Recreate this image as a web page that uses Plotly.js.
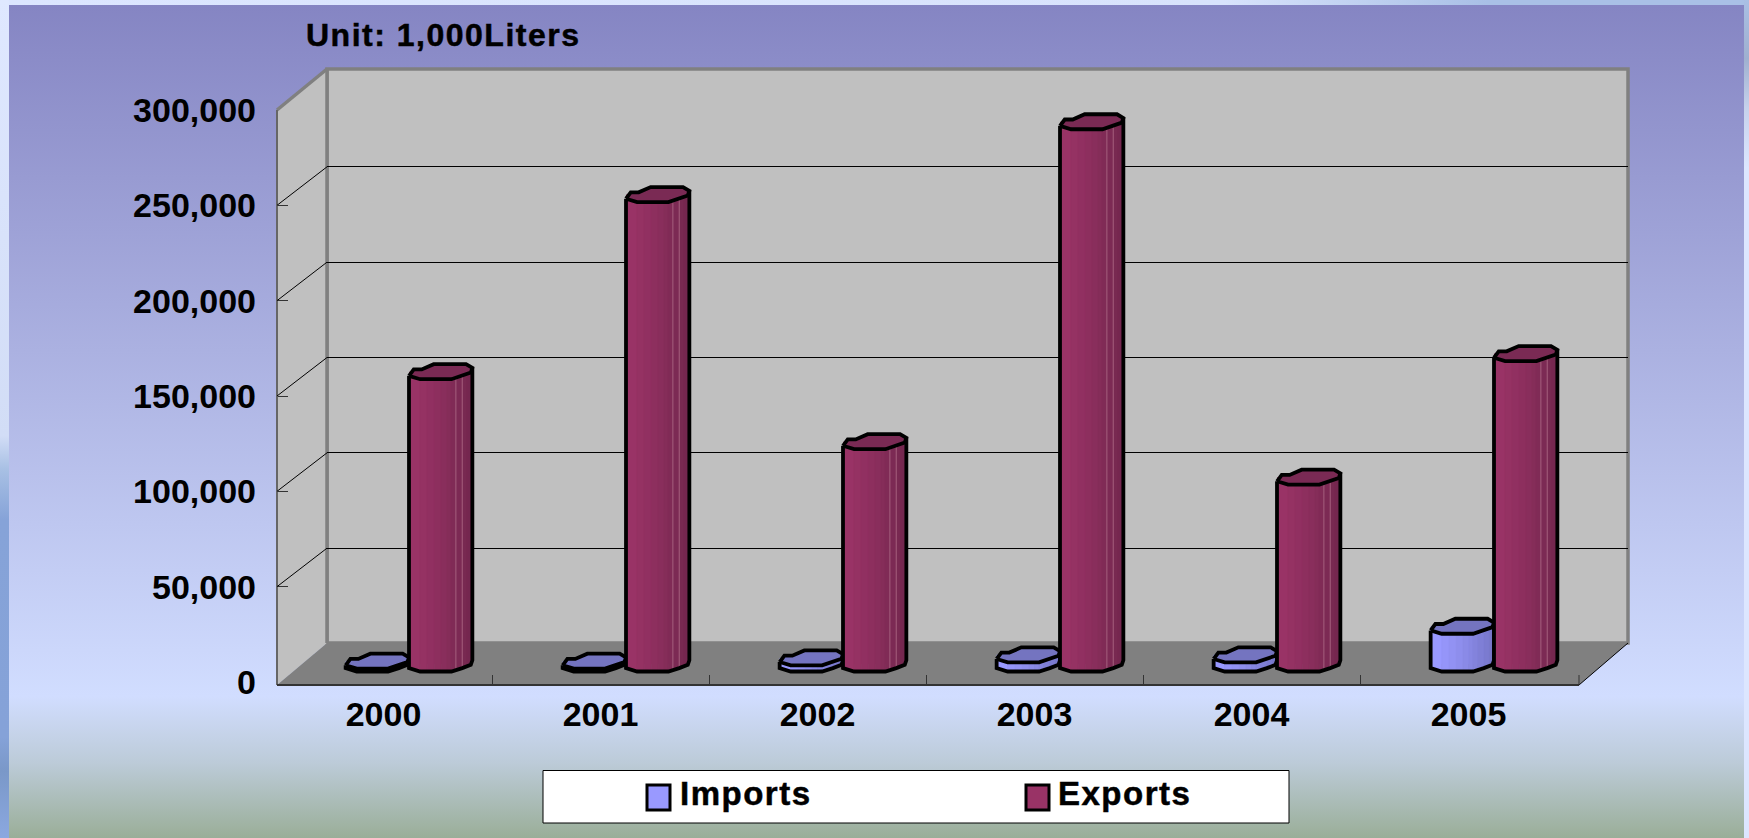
<!DOCTYPE html>
<html>
<head>
<meta charset="utf-8">
<script src="https://cdn.plot.ly/plotly-3.0.1.min.js"></script>
<style>
html,body{margin:0;padding:0;width:1749px;height:838px;overflow:hidden;background:#dce6ff;}
#topstrip{position:absolute;left:0;top:0;width:1749px;height:5px;
 background:linear-gradient(90deg,#dce6ff 0%,#d8e3fc 70%,#a9c0e6 85%,#a9c0e6 100%);}
#leftstrip{position:absolute;left:0;top:0;width:9px;height:838px;
 background:linear-gradient(180deg,#dfe8ff 0%,#d2ddf6 52%,#a8c0e4 56%,#86a3d8 62%,#85a2d8 88%,#7a98c8 92%,#8ba8e0 100%);}
#rightstrip{position:absolute;left:1744px;top:0;width:5px;height:838px;
 background:linear-gradient(180deg,#a9bfe4 0%,#9fb0d0 7%,#c6d2ec 13%,#dce6ff 20%,#dce6ff 100%);}
#panel{position:absolute;left:9px;top:5px;width:1735px;height:833px;
 background:linear-gradient(180deg,#8585c3 0%,#d1ddff 83%,#bccbd8 91%,#9aae98 100%);}
#chart{position:absolute;left:0;top:0;width:1749px;height:838px;}
.annotation-text{letter-spacing:1.5px;stroke:#000;stroke-width:.5px;}
.xtick text,.ytick text{stroke:#000;stroke-width:.5px;}
</style>
</head>
<body>
<div id="topstrip"></div>
<div id="leftstrip"></div>
<div id="rightstrip"></div>
<div id="panel"></div>
<div id="chart"></div>
<script>
// ---------- data ----------
var years   = ['2000','2001','2002','2003','2004','2005'];
var imports = [1500, 1500, 3200, 4800, 4800, 19800];
var exports_ = [153300, 246200, 116600, 284400, 98000, 162800];
var yTicks  = [0, 50000, 100000, 150000, 200000, 250000, 300000];
var seriesNames = ['Imports', 'Exports'];

// ---------- page geometry (pixels of the 1749x838 page) ----------
var W = 1749, H = 838;
var front = {l:275, r:1577, t:110, b:682, edgeL:277, edgeR:1579, edgeB:685};
var back  = {l:327, r:1628, t:69,  b:643, gridT:71.5, gridB:643.5};
var pxPerUnit = (front.b - front.t) / 300000;
var midBase = 664, midShift = 25.5;
function px(x){return x / W;}
function py(y){return 1 - y / H;}
var yLow = -20000, yHigh = 320000;

// ---------- cylinder profile (unit radius, sheared octagon as in the picture) ----------
var capU = [-1,-0.85,-0.6,-0.22,0.8,1,0.95,0.68,0.34,-0.65,-1];
var capV = [-0.55,0.3,0.3,1,1,0.5,-0.12,-0.55,-1,-1,-0.55];
var lowU = [-1,-0.65,0.34,0.68,0.95,1];
var lowV = [-0.55,-1,-1,-0.55,-0.12,0.5];
var strips = [-1,-0.65,-0.42,-0.2,0.02,0.2,0.34,0.48,0.68,0.84,0.95,1];
var rU = 0.146, halfH = 7.5 / pxPerUnit;

function lowAt(u){
  for (var k = 0; k < lowU.length - 1; k++) {
    if (u <= lowU[k+1]) {
      return lowV[k] + (lowV[k+1]-lowV[k]) * (u-lowU[k]) / (lowU[k+1]-lowU[k]);
    }
  }
  return lowV[lowV.length-1];
}
function mix(a,b,t){
  return 'rgb(' + a.map(function(c,i){return Math.round(c+(b[i]-c)*t);}).join(',') + ')';
}

var traces = [];
// back plane: carries the wall gridlines
traces.push({type:'scatter', mode:'none', x:[0], y:[0], xaxis:'x', yaxis:'y', showlegend:false, hoverinfo:'skip'});

function addSeries(name, values, sign, colLeft, colRight, capCol, bar){
  var centers = values.map(function(v,i){return i + sign*rU;});
  // the real bar, from the values
  traces.push({type:'bar', name:name, x:centers, y:values, width:2*rU, xaxis:'x2', yaxis:'y2',
    marker:{color:bar, line:{width:0}}, showlegend:false, customdata:years,
    hovertemplate:name+' %{customdata}: %{y:,}<extra></extra>'});
  // shaded facets
  for (var s = 0; s < strips.length-1; s++) {
    var xs = [], ys = [];
    values.forEach(function(v,i){
      var u1 = strips[s], u2 = strips[s+1];
      var a = lowAt(u1)*halfH, b = lowAt(u2)*halfH;
      xs.push(centers[i]+u1*rU, centers[i]+u2*rU, centers[i]+u2*rU, centers[i]+u1*rU, centers[i]+u1*rU, null);
      ys.push(a, b, v+b, v+a, a, null);
    });
    var t = s/(strips.length-2);
    var c = mix(colLeft,colRight,t);
    traces.push({type:'scatter', mode:'lines', x:xs, y:ys, xaxis:'x2', yaxis:'y2', fill:'toself',
      fillcolor:c, line:{width:0.6,color:c}, showlegend:false, hoverinfo:'skip'});
  }
  // highlights, cap and outline
  if (sign > 0) {
    var hx = [], hy = [];
    values.forEach(function(v,i){
      [0.48,0.68].forEach(function(u){
        hx.push(centers[i]+u*rU, centers[i]+u*rU, null);
        hy.push(lowAt(u)*halfH, v+lowAt(u)*halfH, null);
      });
    });
    traces.push({type:'scatter', mode:'lines', x:hx, y:hy, xaxis:'x2', yaxis:'y2',
      line:{width:1,color:'#a5607f'}, showlegend:false, hoverinfo:'skip'});
  }
  var cx = [], cy = [], ox = [], oy = [];
  values.forEach(function(v,i){
    capU.forEach(function(u,k){ cx.push(centers[i]+u*rU); cy.push(v+capV[k]*halfH); });
    cx.push(null); cy.push(null);
    // silhouette: down the left edge, along the base, up the right edge
    ox.push(centers[i]-rU); oy.push(v+lowV[0]*halfH);
    lowU.forEach(function(u,k){ ox.push(centers[i]+u*rU); oy.push(lowV[k]*halfH); });
    ox.push(centers[i]+rU); oy.push(v+lowV[lowV.length-1]*halfH);
    ox.push(null); oy.push(null);
  });
  traces.push({type:'scatter', mode:'lines', x:ox, y:oy, xaxis:'x2', yaxis:'y2',
    line:{width:3.8,color:'#000'}, showlegend:false, hoverinfo:'skip'});
  traces.push({type:'scatter', mode:'lines', x:cx, y:cy, xaxis:'x2', yaxis:'y2', fill:'toself',
    fillcolor:capCol, line:{width:3.8,color:'#000'}, showlegend:false, hoverinfo:'skip'});
}
addSeries(seriesNames[0], imports, -1, [153,153,255], [116,116,196], '#7474c0', '#9999ff');
addSeries(seriesNames[1], exports_, 1, [153,51,102], [112,38,76], '#7a2a54', '#993366');

// front plane: carries the tick labels
traces.push({type:'scatter', mode:'none', x:years, y:exports_, xaxis:'x3', yaxis:'y3', showlegend:false, hoverinfo:'skip'});

// ---------- walls ----------
function poly(pts, fill, lineCol, lineW){
  var d = pts.map(function(p,i){return (i?'L':'M')+px(p[0])+','+py(p[1]);}).join(' ') + ' Z';
  return {type:'path', xref:'paper', yref:'paper', path:d, fillcolor:fill,
          line:{color:lineCol||fill, width:lineW===undefined?0:lineW}, layer:'below'};
}
function seg(x0,y0,x1,y1,col,w){
  return {type:'line', xref:'paper', yref:'paper', x0:px(x0), y0:py(y0), x1:px(x1), y1:py(y1),
          line:{color:col,width:w}, layer:'below'};
}
var shapes = [
  poly([[back.l,back.t],[back.r,back.t],[back.r,back.b],[back.l,back.b]], '#c0c0c0', '#808080', 3.5),
  poly([[front.edgeL,front.t],[back.l,back.t],[back.l,back.b],[front.edgeL,front.edgeB]], '#c0c0c0'),
  poly([[front.edgeL,front.edgeB],[back.l,back.b],[back.r,back.b],[front.edgeR,front.edgeB]], '#808080'),
  seg(front.edgeL,front.t,back.l,back.t,'#808080',3.5),
  seg(back.l,back.t,back.l,back.b,'#808080',3.5),
  seg(front.edgeL,front.t,front.edgeL,front.edgeB,'#666',2),
  seg(front.edgeL,front.edgeB,front.edgeR,front.edgeB,'#333',2),
  seg(front.edgeR,front.edgeB,back.r,back.b,'#000',1),
  seg(front.edgeR,front.edgeB,front.edgeR,front.edgeB-10,'#333',1)
];
yTicks.forEach(function(v){
  if (v > 0 && v < 300000) {
    var yF = front.b - v*pxPerUnit, yB = back.gridB - v*(back.gridB-back.gridT)/300000;
    shapes.push(seg(front.edgeL,yF,back.l,yB,'#000',1));
  }
});

// ---------- legend ----------
var font = 'Liberation Sans, Arial, sans-serif';
shapes.push({type:'rect', xref:'paper', yref:'paper', x0:px(543), x1:px(1289), y0:py(770.5), y1:py(823),
  fillcolor:'#fff', line:{color:'#000',width:1}, layer:'above'});
shapes.push({type:'rect', xref:'paper', yref:'paper', x0:px(647), x1:px(670), y0:py(785), y1:py(810),
  fillcolor:'#9999ff', line:{color:'#000',width:3}, layer:'above'});
shapes.push({type:'rect', xref:'paper', yref:'paper', x0:px(1026), x1:px(1049), y0:py(785), y1:py(810),
  fillcolor:'#993366', line:{color:'#000',width:3}, layer:'above'});
function note(text,x,y,size){
  return {text:'<b>'+text+'</b>', xref:'paper', yref:'paper', x:px(x), y:py(y), xanchor:'left', yanchor:'middle',
          showarrow:false, font:{family:font, size:size, color:'#000'}};
}
var annotations = [
  note('Unit: 1,000Liters', 304, 35, 32),
  note(seriesNames[0], 678, 793, 33),
  note(seriesNames[1], 1056, 793, 33)
];

var axisFont = {family:font, size:34, color:'#000', weight:700};
var layout = {
  width:W, height:H, margin:{l:0,r:0,t:0,b:0}, paper_bgcolor:'rgba(0,0,0,0)', plot_bgcolor:'rgba(0,0,0,0)',
  showlegend:false, barmode:'overlay', shapes:shapes, annotations:annotations,
  // back wall
  xaxis:{domain:[px(back.l),px(back.r)], range:[0,1], showgrid:false, zeroline:false, showticklabels:false, ticks:'', anchor:'y'},
  yaxis:{domain:[py(back.gridB),py(back.gridT)], range:[0,300000], tickvals:yTicks.slice(1,-1), showgrid:true, gridcolor:'#000', gridwidth:1,
         zeroline:false, showticklabels:false, ticks:'', anchor:'x'},
  // plane of the cylinders
  xaxis2:{domain:[px(front.l+midShift),px(front.r+midShift)], range:[-0.5,5.5], visible:false, anchor:'y2'},
  yaxis2:{domain:[py(midBase-yLow*pxPerUnit),py(midBase-yHigh*pxPerUnit)], range:[yLow,yHigh], visible:false, anchor:'x2'},
  // front plane with labels
  xaxis3:{domain:[px(front.l),px(front.r)], type:'category', categoryorder:'array', categoryarray:years, range:[-0.5,5.5],
          tickson:'boundaries', ticks:'inside', ticklen:10, tickwidth:1, tickcolor:'#333', showgrid:false, zeroline:false,
          showline:false, tickfont:axisFont, ticklabelstandoff:6, anchor:'free', position:py(front.edgeB)},
  yaxis3:{domain:[py(front.b),py(front.t)], range:[0,300000], tickvals:yTicks, tickformat:',d', ticks:'inside', ticklen:10, tickwidth:1,
          tickcolor:'#333', showgrid:false, zeroline:false, showline:false, tickfont:axisFont,
          ticklabelstandoff:21, anchor:'free', position:px(front.edgeL)}
};
Plotly.newPlot('chart', traces, layout, {displayModeBar:false, staticPlot:false});
</script>
</body>
</html>
